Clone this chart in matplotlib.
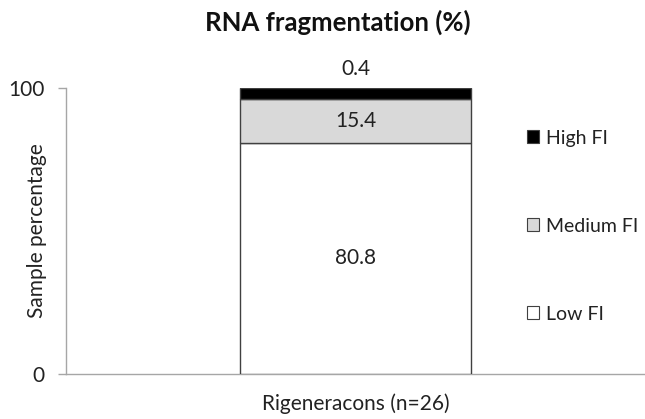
import matplotlib
matplotlib.use("Agg")
import matplotlib.pyplot as plt
from matplotlib.patches import Patch

plt.rcParams['font.family'] = ['Lato', 'DejaVu Sans']

categories = ["Rigeneracons (n=26)"]
series_names = ["Low FI", "Medium FI", "High FI"]
low_vals = [80.8]
medium_vals = [15.4]
high_vals = [3.8]
value_labels = {"Low FI": "80.8", "Medium FI": "15.4", "High FI": "0.4"}
colors = {"Low FI": "#ffffff", "Medium FI": "#d9d9d9", "High FI": "#000000"}
yticks = [0, 100]

FS = 15

fig = plt.figure(figsize=(6.45, 4.19), dpi=100)
ax = fig.add_axes([66/645, 1-374/419, 1-66/645, (374-88)/419])

x = list(range(len(categories)))
bw = 0.40
ax.bar(x, low_vals, width=bw, color=colors["Low FI"], edgecolor="#404040", linewidth=1.0, zorder=3)
ax.bar(x, medium_vals, width=bw, bottom=low_vals, color=colors["Medium FI"], edgecolor="#404040", linewidth=1.0, zorder=3)
bot3 = [a + b for a, b in zip(low_vals, medium_vals)]
ax.bar(x, high_vals, width=bw, bottom=bot3, color=colors["High FI"], edgecolor="#404040", linewidth=1.0, zorder=3)

for i in x:
    ax.text(i, low_vals[i] / 2, value_labels["Low FI"], ha="center", va="center", fontsize=FS, color="#222222")
    ax.text(i, low_vals[i] + medium_vals[i] / 2, value_labels["Medium FI"], ha="center", va="center", fontsize=FS, color="#222222")
    ax.text(i, bot3[i] + high_vals[i] + 3.0, value_labels["High FI"], ha="center", va="bottom", fontsize=FS, color="#222222")

ax.set_xlim(-0.5, 0.5)
ax.set_ylim(0, 100)
ax.set_yticks(yticks)
ax.set_yticklabels([str(t) for t in yticks], fontsize=FS, color="#222222")
ax.set_xticks(x)
ax.set_xticklabels(categories, fontsize=FS, color="#222222")
ax.tick_params(axis="x", length=0, pad=14)
ax.tick_params(axis="y", length=5.8, width=1, color="#a6a6a6", pad=9.4)
for s in ["top", "right"]:
    ax.spines[s].set_visible(False)
for s in ["left", "bottom"]:
    ax.spines[s].set_color("#a6a6a6")
    ax.spines[s].set_linewidth(1.0)
ax.set_ylabel("Sample percentage", fontsize=FS, color="#222222", va="center")
ax.yaxis.set_label_coords(-(66 - 37) / 579, 0.5)

fig.text(338/645, 1-22/419, "RNA fragmentation (%)", ha="center", va="center", fontsize=18.5, fontweight="bold", color="#111111")

handles = [Patch(facecolor=colors[n], edgecolor="#404040", linewidth=0.8) for n in ["High FI", "Medium FI", "Low FI"]]
fig.legend(handles, ["High FI", "Medium FI", "Low FI"], loc="upper left", bbox_to_anchor=(517/645, 1-120/419),
           frameon=False, fontsize=14, labelspacing=3.65, handlelength=0.65, handleheight=0.65, handletextpad=0.35,
           borderpad=0, labelcolor="#222222")

fig.savefig("out.png", dpi=100, facecolor="white")
